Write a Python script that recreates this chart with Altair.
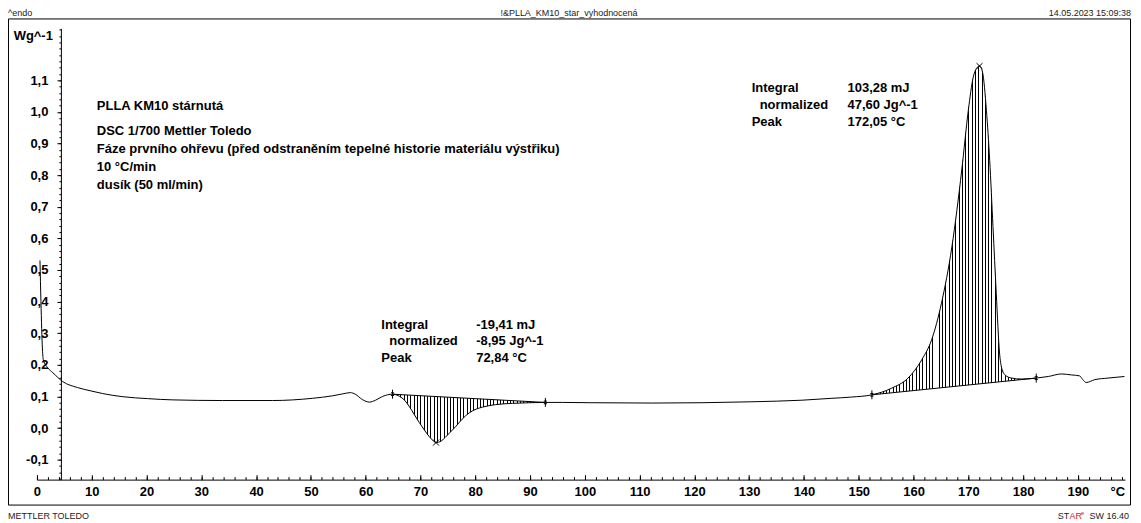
import altair as alt
import pandas as pd

# ---------------- data ----------------
temperature = [0.55, 0.73, 1.0, 1.18, 2.0, 2.9, 4.7, 7.4, 9.7, 12.0, 15.7, 20.2, 24.8,
               33.9, 43.0, 50.3, 54.0, 55.8, 57.2, 58.1, 59.4, 60.7, 61.8, 63.1, 64.9,
               66.2, 67.1, 68.0, 68.9, 69.8, 70.7, 71.6, 72.3, 72.84, 73.8, 74.5, 75.4,
               76.4, 77.6, 78.9, 80.2, 81.3, 83.7, 86.8, 89.8, 92.8, 95.9, 101.3, 112.3,
               121.4, 130.5, 139.6, 145.1, 148.7, 152.4, 156.0, 159.0, 161.5, 163.3,
               165.1, 167.0, 168.8, 170.0, 170.9, 171.5, 172.05, 172.6, 173.3, 173.9,
               174.5, 175.1, 175.7, 176.1, 176.7, 177.9, 179.7, 182.4, 184.6, 187.0,
               188.8, 190.3, 190.9, 191.5, 193.1, 195.5, 198.5]
heat_flow = [0.53, 0.40, 0.25, 0.215, 0.19, 0.175, 0.147, 0.128, 0.118, 0.109, 0.099,
             0.093, 0.089, 0.087, 0.087, 0.094, 0.102, 0.108, 0.112, 0.107, 0.090, 0.082,
             0.088, 0.100, 0.107, 0.100, 0.088, 0.067, 0.042, 0.017, -0.006, -0.027,
             -0.040, -0.046, -0.041, -0.030, -0.014, 0.004, 0.028, 0.048, 0.060, 0.066,
             0.074, 0.078, 0.080, 0.081, 0.081, 0.080, 0.079, 0.080, 0.083, 0.088, 0.094,
             0.098, 0.105, 0.126, 0.158, 0.216, 0.279, 0.395, 0.573, 0.816, 1.005, 1.110,
             1.138, 1.145, 1.125, 1.005, 0.847, 0.637, 0.426, 0.237, 0.189, 0.168, 0.158,
             0.155, 0.158, 0.163, 0.171, 0.168, 0.165, 0.153, 0.144, 0.153, 0.158, 0.163]

# integration limits (cold crystallisation, melting)
cold_limits_T = [64.9, 92.8]
cold_limits_HF = [0.107, 0.081]
melt_limits_T = [152.4, 182.4]
melt_limits_HF = [0.105, 0.158]
peak_T = [72.84, 172.05]
peak_HF = [-0.046, 1.145]

x_tick_labels = [0, 10, 20, 30, 40, 50, 60, 70, 80, 90, 100, 110, 120, 130, 140, 150,
                 160, 170, 180, 190]
x_unit_pos = 197.2
x_minor_ticks = list(range(0, 199, 2))
y_tick_labels = [-0.1, 0.0, 0.1, 0.2, 0.3, 0.4, 0.5, 0.6, 0.7, 0.8, 0.9, 1.0, 1.1]
y_minor_ticks = [round(-0.16 + 0.02 * i, 2) for i in range(72)]

info_lines = ["DSC 1/700 Mettler Toledo",
              "Fáze prvního ohřevu (před odstraněním tepelné historie materiálu výstřiku)",
              "10 °C/min",
              "dusík (50 ml/min)"]
cold_labels = ["Integral", "normalized", "Peak"]
cold_values = ["-19,41 mJ", "-8,95 Jg^-1", "72,84 °C"]
melt_labels = ["Integral", "normalized", "Peak"]
melt_values = ["103,28 mJ", "47,60 Jg^-1", "172,05 °C"]

# ---------------- tables ----------------
df = pd.DataFrame({"T": temperature, "HF": heat_flow})
cold_df = df[(df["T"] >= cold_limits_T[0]) & (df["T"] <= cold_limits_T[1])]
melt_df = df[(df["T"] >= melt_limits_T[0]) & (df["T"] <= melt_limits_T[1])]
cold_base = pd.DataFrame({"T": cold_limits_T, "HF": cold_limits_HF})
melt_base = pd.DataFrame({"T": melt_limits_T, "HF": melt_limits_HF})
limits_df = pd.concat([cold_base, melt_base])
peaks_df = pd.DataFrame({"T": peak_T, "HF": peak_HF})

W, H = 1090, 452
sx = alt.Scale(domain=[0, 198.6], nice=False, zero=False)
sy = alt.Scale(domain=[-0.1632, 1.264], nice=False, zero=False)
BOLD = "Liberation Sans, Arial, sans-serif"
NARROW = "Liberation Sans Narrow, Arial Narrow, Liberation Sans, sans-serif"


def stripes(width_px, period=3.3):
    n = max(1, round(width_px / period))
    stops = []
    for i in range(n):
        a = i / n
        b = (i + 0.35) / n
        c = (i + 0.65) / n
        stops += [alt.GradientStop(color="white", offset=a),
                  alt.GradientStop(color="white", offset=b),
                  alt.GradientStop(color="black", offset=b),
                  alt.GradientStop(color="black", offset=c),
                  alt.GradientStop(color="white", offset=c)]
    stops.append(alt.GradientStop(color="white", offset=1))
    return alt.LinearGradient(gradient="linear", stops=stops, x1=0, x2=1, y1=0, y2=0)


def xq(axis=None):
    return alt.X("T:Q", scale=sx, axis=axis)


def yq(axis=None):
    return alt.Y("HF:Q", scale=sy, axis=axis)


one = alt.Data(values=[{}])


def txt(text, x, y, align="left", font=BOLD, size=13, weight="bold", color="black",
        baseline="middle"):
    return alt.Chart(one).mark_text(text=text, align=align, baseline=baseline, font=font,
                                    fontSize=size, fontWeight=weight, color=color).encode(
        x=alt.value(x), y=alt.value(y))


# ---------------- axes ----------------
x_axis = alt.Axis(values=x_tick_labels + [x_unit_pos],
                  labelExpr="datum.value > 195 ? '°C' : format(datum.value, 'd')",
                  ticks=False, domainColor="black", domainWidth=1, labelFont=BOLD,
                  labelFontSize=13, labelFontWeight="bold", labelColor="black",
                  labelPadding=6, grid=False, title=None, labelFlush=False,
                  labelOverlap=False, orient="bottom")
y_axis = alt.Axis(values=y_tick_labels, orient="left", offset=-24,
                  labelExpr="(datum.value < -0.001 ? '-' : '') + replace(format(abs(datum.value), '.1f'), '.', ',')",
                  tickSize=4, tickColor="black", domainColor="black", domainWidth=1,
                  labelPadding=9, labelFont=BOLD, labelFontSize=13, labelFontWeight="bold",
                  labelColor="black", grid=False, title=None, labelOverlap=False)

x_minor_axis = alt.Axis(orient="top", offset=-H, values=x_minor_ticks, tickSize=3,
                        tickColor="black", labels=False, domain=False, grid=False, title=None)
x_major_axis = alt.Axis(orient="top", offset=-H, values=x_tick_labels, tickSize=5,
                        tickColor="black", labels=False, domain=False, grid=False, title=None)
y_minor_axis = alt.Axis(orient="left", offset=-24, values=y_minor_ticks, tickSize=2,
                        tickColor="black", labels=False, domain=False, grid=False, title=None)

curve = alt.Chart(df).mark_line(color="black", strokeWidth=1, interpolate="monotone").encode(
    x=xq(x_axis), y=yq(y_axis))
ticks_minor = alt.Chart(df).mark_line(opacity=0).encode(x=xq(x_minor_axis), y=yq(y_minor_axis))
ticks_major = alt.Chart(df).mark_line(opacity=0).encode(x=xq(x_major_axis), y=yq())

# ---------------- hatched integrals ----------------
cold_hatch = alt.Chart(cold_df).mark_area(
    interpolate="monotone", fill=stripes((cold_limits_T[1] - cold_limits_T[0]) * W / 198.6)
).encode(x=xq(), y=yq(), y2=alt.datum(0.2))
cold_mask = alt.Chart(cold_base).mark_area(fill="white").encode(x=xq(), y=yq(), y2=alt.datum(0.215))
melt_hatch = alt.Chart(melt_df).mark_area(
    interpolate="monotone", fill=stripes((melt_limits_T[1] - melt_limits_T[0]) * W / 198.6)
).encode(x=xq(), y=yq(), y2=alt.datum(0.0))
melt_mask = alt.Chart(melt_base).mark_area(fill="white").encode(x=xq(), y=yq(), y2=alt.datum(-0.015))

cold_line = alt.Chart(cold_base).mark_line(color="black", strokeWidth=1).encode(x=xq(), y=yq())
melt_line = alt.Chart(melt_base).mark_line(color="black", strokeWidth=1).encode(x=xq(), y=yq())

limit_marks = alt.Chart(limits_df).mark_point(
    shape="M0,-1L0,1M-0.35,-0.3L0.35,-0.3M-0.35,0.3L0.35,0.3", size=81, filled=False,
    color="black", strokeWidth=1, opacity=1).encode(x=xq(), y=yq())
peak_marks = alt.Chart(peaks_df).mark_point(
    shape="M-1,-1L1,1M-1,1L1,-1", size=36, filled=False, color="black", strokeWidth=1,
    opacity=1).encode(x=xq(), y=yq())

# ---------------- frame & texts (pixel positions relative to plot origin) ----------------
frame = alt.Chart(one).mark_rect(fillOpacity=0, stroke="black", strokeWidth=1).encode(
    x=alt.value(-28.5), x2=alt.value(1095.5), y=alt.value(-9.5), y2=alt.value(477.5))

texts = [
    txt("^endo", -29, -19, font=NARROW, size=9, weight="normal", color="#222", baseline="top"),
    txt("!&PLLA_KM10_star_vyhodnocená", 533, -19, align="center", font=NARROW, size=9,
        weight="normal", color="#222", baseline="top"),
    txt("14.05.2023 15:09:38", 1096, -19, align="right", font=NARROW, size=9,
        weight="normal", color="#222", baseline="top"),
    txt("METTLER TOLEDO", -29, 488, font=NARROW, size=9, weight="normal", color="#222"),
    txt("SW 16.40", 1094, 488, align="right", font=NARROW, size=9, weight="normal", color="#222"),
    txt("ST", 1034, 488, align="right", font=NARROW, size=9, weight="normal", color="#222"),
    txt("AR", 1034.5, 488, align="left", font=NARROW, size=9, weight="normal", color="#d0202a"),
    txt("e", 1046, 485, align="left", font=NARROW, size=6, weight="normal", color="#d0202a"),
    txt("Wg^-1", 16, 8, align="right", size=13),
    txt("PLLA KM10 stárnutá", 60, 78),
]
for i, line in enumerate(info_lines):
    texts.append(txt(line, 60, 103 + i * 17.8))
for i in range(3):
    indent = 8 if i == 1 else 0
    texts.append(txt(cold_labels[i], 345 + indent, 297 + i * 16.5))
    texts.append(txt(cold_values[i], 440, 297 + i * 16.5))
    texts.append(txt(melt_labels[i], 716 + indent, 60 + i * 17))
    texts.append(txt(melt_values[i], 812, 60 + i * 17))

chart = alt.layer(
    ticks_minor, ticks_major, frame,
    cold_hatch, melt_hatch, cold_mask, melt_mask, cold_line, melt_line,
    curve, limit_marks, peak_marks, *texts
).resolve_axis(x="independent", y="independent").properties(
    width=W, height=H,
    autosize=alt.AutoSizeParams(type="none"),
    padding={"left": 29, "top": 20, "right": 8, "bottom": 43},
    background="white",
).configure_view(strokeWidth=0)

chart.save("out.html", embed_options={"renderer": "svg", "actions": False})
